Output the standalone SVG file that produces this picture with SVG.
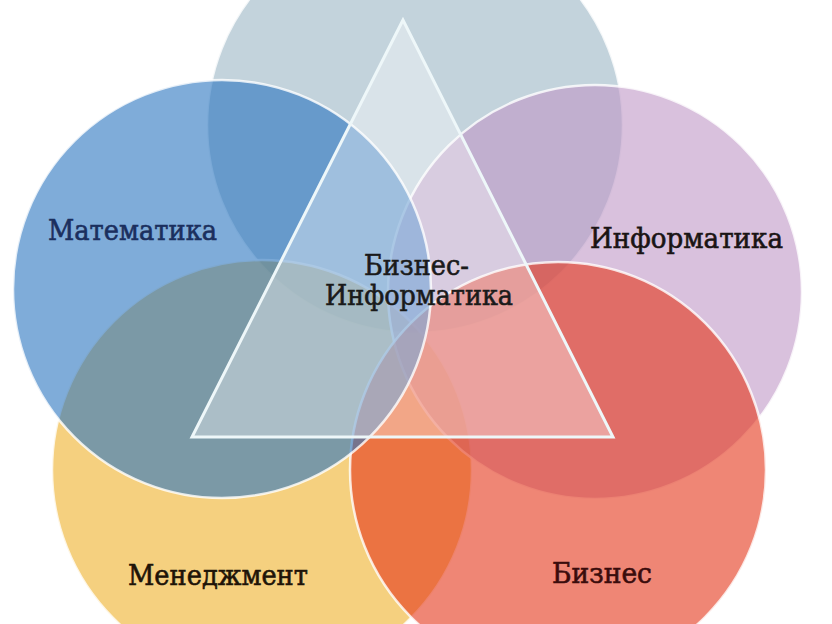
<svg xmlns="http://www.w3.org/2000/svg" width="832" height="624" viewBox="0 0 832 624">
  <style>
    .c { fill-opacity: 0.6; stroke: #ffffff; stroke-opacity: 0.8; stroke-width: 2.5; }
    .lbl { font-family: "DejaVu Serif", "Liberation Serif", serif; font-size: 27px; stroke-width: 0.6px; }
  </style>
  <rect x="0" y="0" width="832" height="624" fill="#ffffff"/>
  <g id="circle-top"><circle class="c" cx="415" cy="125" r="208" fill="#9bb6c5"/></g>
  <g id="circle-management"><circle class="c" cx="262" cy="470" r="210" fill="#eeb12a"/></g>
  <g id="circle-informatics"><circle class="c" cx="595" cy="292" r="207" fill="#c098c6"/></g>
  <g id="circle-business"><circle class="c" cx="558" cy="470" r="208" fill="#e43519"/></g>
  <g id="circle-math"><circle class="c" cx="222" cy="289" r="209" fill="#2a74c0"/></g>
  <g id="triangle"><polygon points="403,20 192,437 613,437" fill="#ffffff" fill-opacity="0.37" stroke="#eef7f9" stroke-width="3" stroke-linejoin="miter"/></g>
  <g id="connectors"></g>
  <g id="labels">
    <text class="lbl" x="48" y="240" fill="#1b2f5e" stroke="#1b2f5e" textLength="169" lengthAdjust="spacingAndGlyphs">Математика</text>
    <text class="lbl" x="590" y="248" fill="#1a1414" stroke="#1a1414" textLength="193" lengthAdjust="spacingAndGlyphs">Информатика</text>
    <text class="lbl" x="364" y="275" fill="#1a1a1a" stroke="#1a1a1a" textLength="105" lengthAdjust="spacingAndGlyphs">Бизнес-</text>
    <text class="lbl" x="325" y="305" fill="#1a1a1a" stroke="#1a1a1a" textLength="188" lengthAdjust="spacingAndGlyphs">Информатика</text>
    <text class="lbl" x="128" y="585" fill="#1e1408" stroke="#1e1408" textLength="180" lengthAdjust="spacingAndGlyphs">Менеджмент</text>
    <text class="lbl" x="552" y="583" fill="#3a0c0c" stroke="#3a0c0c" textLength="100" lengthAdjust="spacingAndGlyphs">Бизнес</text>
  </g>
</svg>
